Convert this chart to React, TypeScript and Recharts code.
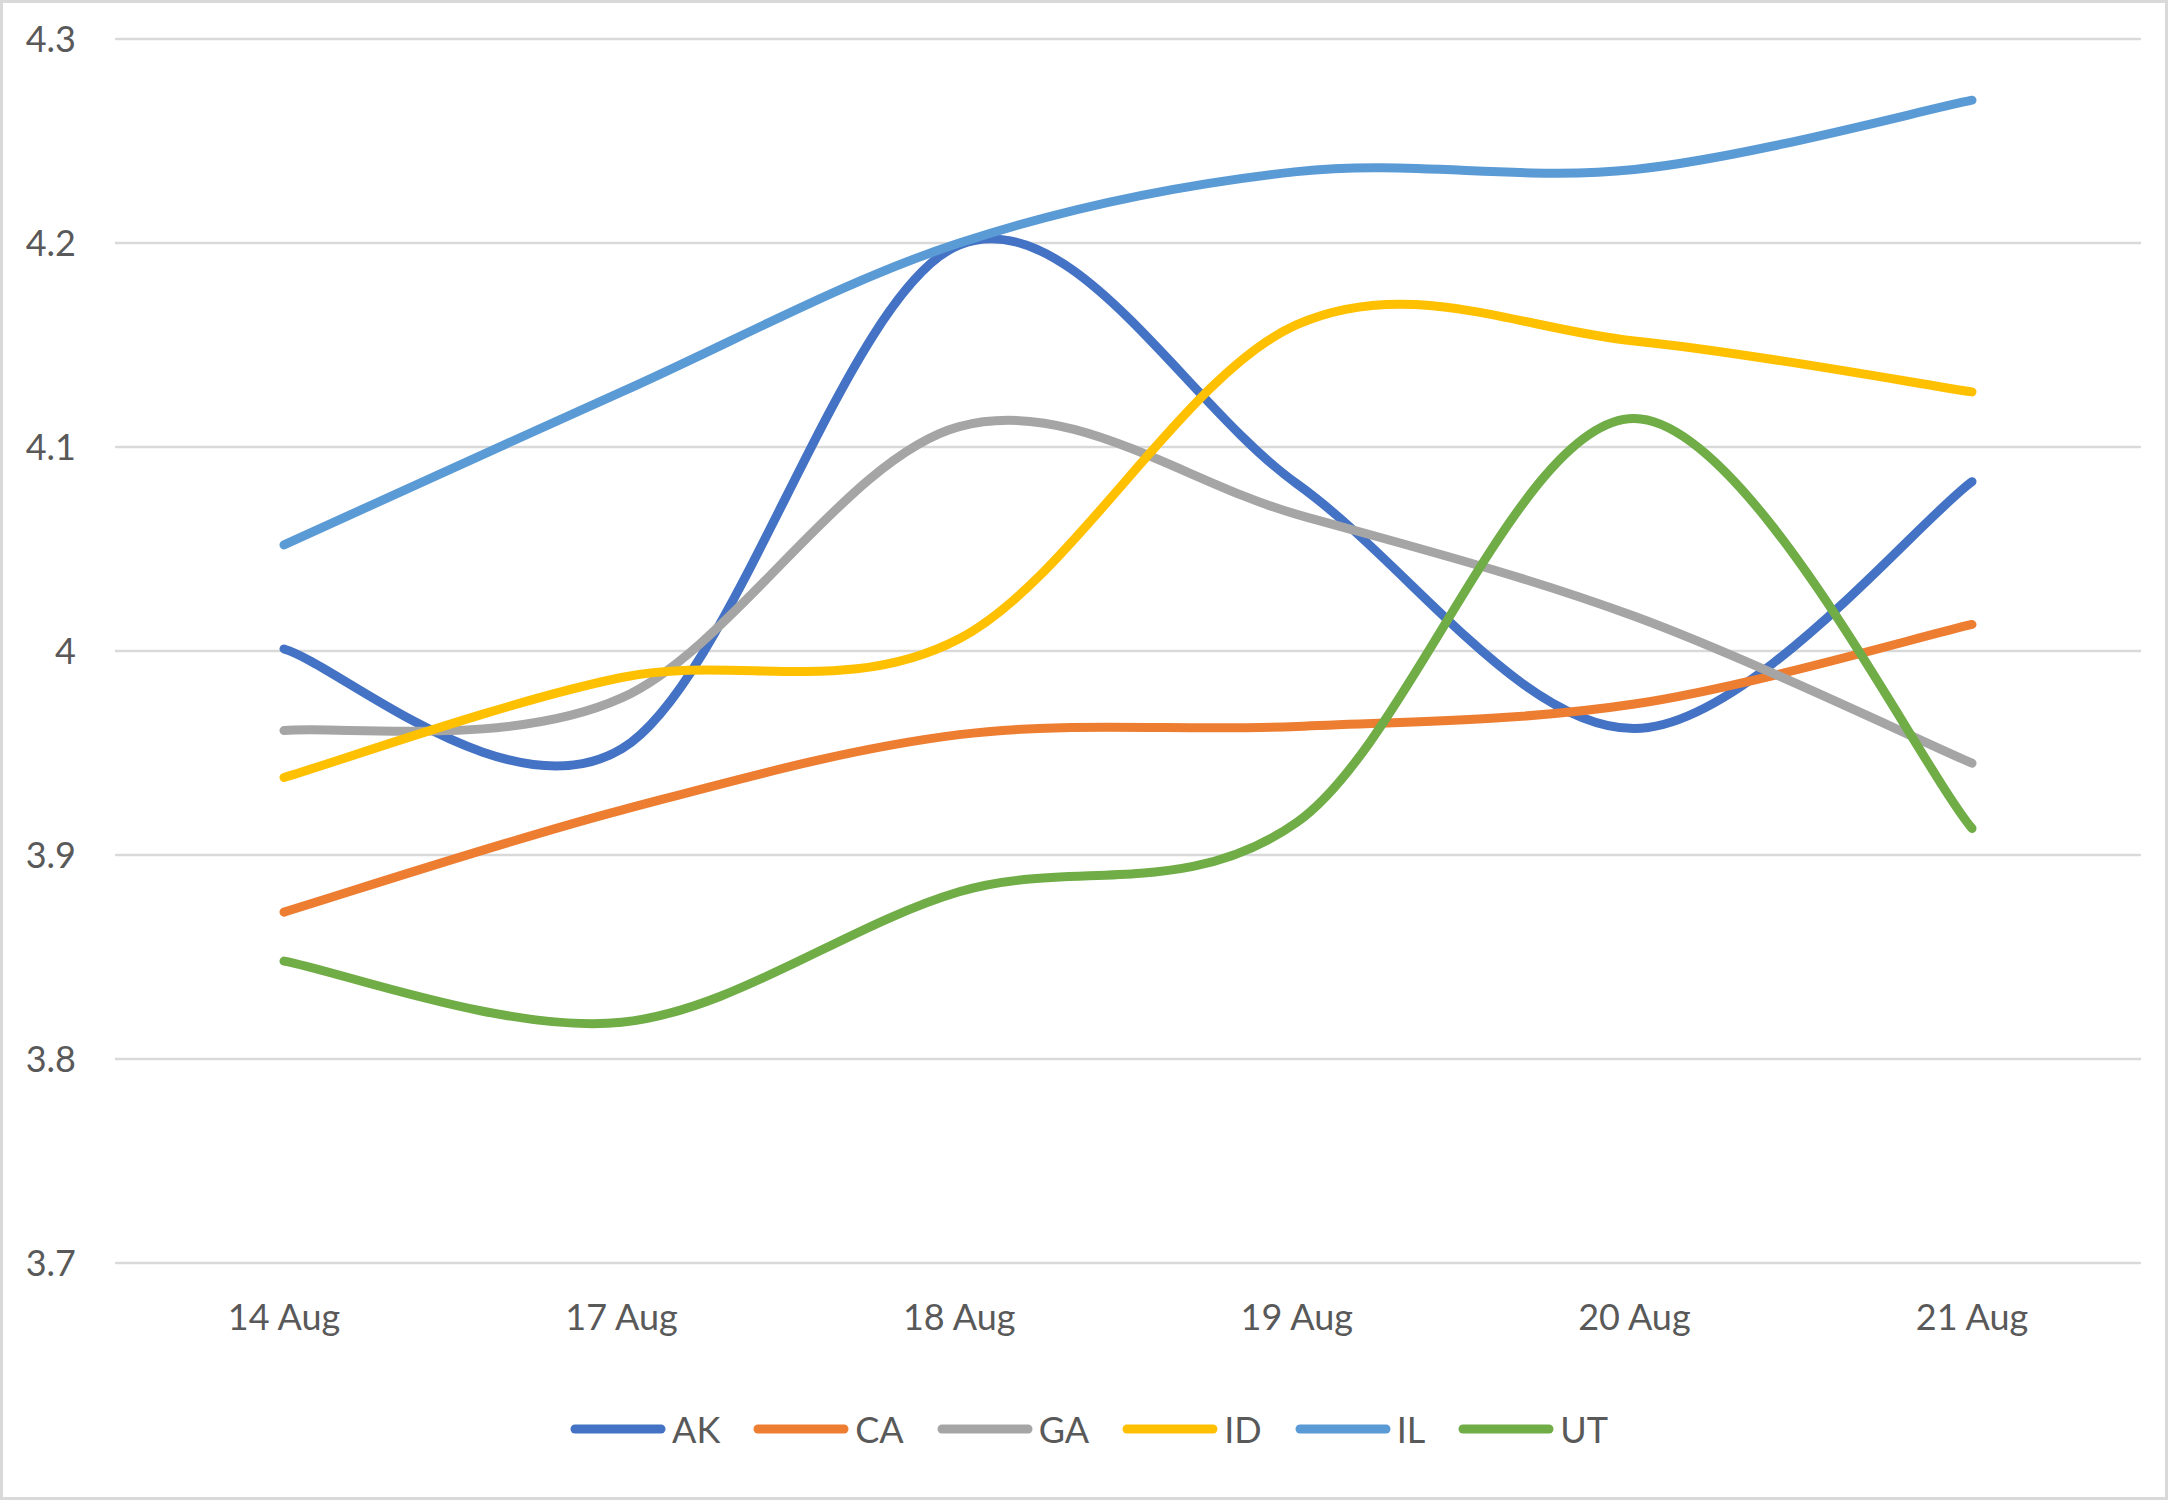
import React from 'react';
import { LineChart, Line, XAxis, YAxis, CartesianGrid, Legend } from 'recharts';

const dates = ['14 Aug', '17 Aug', '18 Aug', '19 Aug', '20 Aug', '21 Aug'];
const AK = [4.001, 3.952, 4.199, 4.082, 3.962, 4.083];
const CA = [3.872, 3.922, 3.959, 3.963, 3.974, 4.013];
const GA = [3.961, 3.977, 4.110, 4.067, 4.017, 3.945];
const ID = [3.938, 3.987, 4.006, 4.160, 4.152, 4.127];
const IL = [4.052, 4.127, 4.200, 4.235, 4.236, 4.270];
const UT = [3.848, 3.818, 3.882, 3.916, 4.114, 3.913];
const yTicks = [3.7, 3.8, 3.9, 4, 4.1, 4.2, 4.3];

const seriesNames = ['AK', 'CA', 'GA', 'ID', 'IL', 'UT'];
const seriesValues = [AK, CA, GA, ID, IL, UT];
const colors: Record<string, string> = {
  AK: '#4472C4',
  CA: '#ED7D31',
  GA: '#A5A5A5',
  ID: '#FFC000',
  IL: '#5B9BD5',
  UT: '#70AD47',
};

const data = dates.map((date, i) => {
  const row: Record<string, string | number> = { date };
  seriesNames.forEach((name, s) => { row[name] = seriesValues[s][i]; });
  return row;
});

const FONT = 'Lato, "Open Sans", sans-serif';
const TEXT = '#595959';

// Excel-style smoothed line (Catmull-Rom as cubic beziers)
function excelSmooth(context: any) {
  let xs: number[] = [];
  let ys: number[] = [];
  return {
    areaStart() {},
    areaEnd() {},
    lineStart() { xs = []; ys = []; },
    lineEnd() {
      const n = xs.length;
      if (!n) return;
      context.moveTo(xs[0], ys[0]);
      if (n === 2) { context.lineTo(xs[1], ys[1]); return; }
      for (let i = 0; i < n - 1; i++) {
        const i0 = Math.max(i - 1, 0);
        const i3 = Math.min(i + 2, n - 1);
        context.bezierCurveTo(
          xs[i] + (xs[i + 1] - xs[i0]) / 6, ys[i] + (ys[i + 1] - ys[i0]) / 6,
          xs[i + 1] - (xs[i3] - xs[i]) / 6, ys[i + 1] - (ys[i3] - ys[i]) / 6,
          xs[i + 1], ys[i + 1],
        );
      }
    },
    point(x: number, y: number) { xs.push(+x); ys.push(+y); },
  };
}

const renderLegend = () => (
  <div style={{
    display: 'flex', justifyContent: 'center', alignItems: 'center', height: 64,
    paddingLeft: 10, fontFamily: FONT, fontSize: 36, color: TEXT,
  }}>
    {seriesNames.map((name, i) => (
      <div key={name} style={{ display: 'flex', alignItems: 'center', marginRight: i === seriesNames.length - 1 ? 0 : 33 }}>
        <svg width={96} height={12}>
          <line x1={5} y1={6} x2={91} y2={6} stroke={colors[name]} strokeWidth={9} strokeLinecap="round" />
        </svg>
        <span style={{ marginLeft: 6, lineHeight: 1 }}>{name}</span>
      </div>
    ))}
  </div>
);

export default function App() {
  return (
    <div style={{ position: 'absolute', left: 0, top: 0, width: 2168, height: 1500, background: '#fff' }}>
      <LineChart width={2168} height={1500} data={data} margin={{ top: 39, right: 27, bottom: 39, left: 0 }}>
        <CartesianGrid vertical={false} stroke="#d9d9d9" strokeWidth={2.5} />
        <XAxis
          dataKey="date"
          interval={0}
          padding={{ left: 169, right: 169 }}
          axisLine={false}
          tickLine={false}
          tickSize={0}
          tickMargin={41}
          height={134}
          tick={{ fontSize: 36, fontFamily: FONT, fill: TEXT }}
        />
        <YAxis
          type="number"
          domain={[3.7, 4.3]}
          ticks={yTicks}
          width={115}
          axisLine={false}
          tickLine={false}
          tickSize={0}
          tickMargin={39}
          tick={{ fontSize: 36, fontFamily: FONT, fill: TEXT }}
        />
        {seriesNames.map((name) => (
          <Line
            key={name}
            dataKey={name}
            type={excelSmooth as any}
            stroke={colors[name]}
            strokeWidth={9}
            strokeLinecap="round"
            dot={false}
            activeDot={false}
            isAnimationActive={false}
          />
        ))}
        <Legend
          verticalAlign="bottom"
          content={renderLegend}
          wrapperStyle={{ left: 0, width: 2168, height: 64 }}
        />
      </LineChart>
      <div style={{
        position: 'absolute', left: 0, top: 0, width: 2168, height: 1500,
        boxSizing: 'border-box', border: '3px solid #d9d9d9', pointerEvents: 'none',
      }} />
    </div>
  );
}
